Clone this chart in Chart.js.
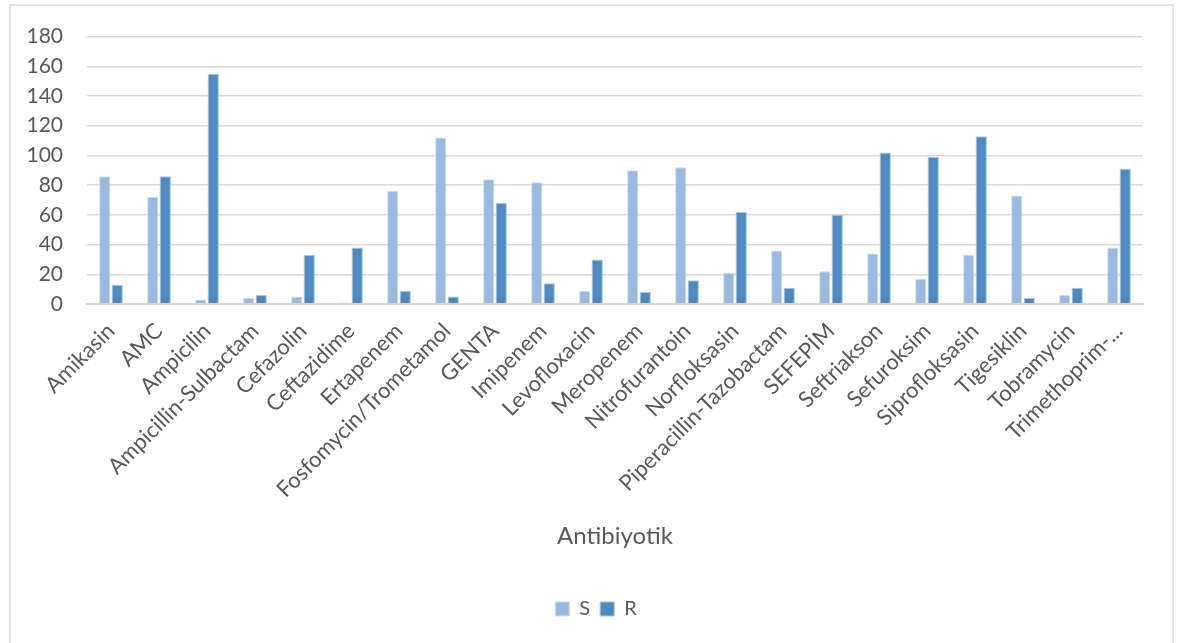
<!DOCTYPE html>
<html>
<head>
<meta charset="utf-8">
<script src="https://cdn.jsdelivr.net/npm/chart.js@4/dist/chart.umd.min.js"></script>
<style>
  html, body { margin: 0; padding: 0; background: #ffffff; }
  #wrap { position: relative; width: 1178px; height: 643px; }
</style>
</head>
<body>
<div id="wrap"><canvas id="c" width="1178" height="643"></canvas></div>
<script>
// Antibiotic susceptibility counts: S = susceptible, R = resistant
const categories = [
  'Amikasin', 'AMC', 'Ampicilin', 'Ampicillin-Sulbactam', 'Cefazolin',
  'Ceftazidime', 'Ertapenem', 'Fosfomycin/Trometamol', 'GENTA', 'Imipenem',
  'Levofloxacin', 'Meropenem', 'Nitrofurantoin', 'Norfloksasin',
  'Piperacillin-Tazobactam', 'SEFEPİM', 'Seftriakson', 'Sefuroksim',
  'Siprofloksasin', 'Tigesiklin', 'Tobramycin', 'Trimethoprim-...'
];
const sValues = [86, 72, 3, 4, 5, 1, 76, 112, 84, 82, 9, 90, 92, 21, 36, 22, 34, 17, 33, 73, 6, 38];
const rValues = [13, 86, 155, 6, 33, 38, 9, 5, 68, 14, 30, 8, 16, 62, 11, 60, 102, 99, 113, 4, 11, 91];
const yTicks = [0, 20, 40, 60, 80, 100, 120, 140, 160, 180];
const seriesNames = ['S', 'R'];
const xTitle = 'Antibiyotik';

const textColor = '#595959';
const fontFamily = 'Lato, "Open Sans", "Liberation Sans", sans-serif';

// light frame around the whole chart object
const framePlugin = {
  id: 'frame',
  beforeDraw(chart) {
    const ctx = chart.ctx;
    ctx.save();
    ctx.fillStyle = '#ffffff';
    ctx.fillRect(0, 0, chart.width, chart.height);
    ctx.strokeStyle = '#d9d9d9';
    ctx.lineWidth = 1.5;
    ctx.strokeRect(10, 5, 1163, 700);
    ctx.restore();
  }
};

new Chart(document.getElementById('c'), {
  type: 'bar',
  data: {
    labels: categories,
    datasets: [
      { label: seriesNames[0], data: sValues, backgroundColor: '#9ab9df', borderColor: '#c9dbf0', borderWidth: 1 },
      { label: seriesNames[1], data: rValues, backgroundColor: '#4f89bd', borderColor: '#a7c3df', borderWidth: 1 }
    ]
  },
  options: {
    responsive: false,
    animation: false,
    devicePixelRatio: 1,
    layout: { padding: { top: 23, left: 24, right: 10, bottom: 14 } },
    datasets: { bar: { categoryPercentage: 0.52, barPercentage: 0.9 } },
    plugins: {
      legend: {
        position: 'bottom',
        labels: {
          boxWidth: 14, boxHeight: 14, padding: 10,
          color: textColor,
          font: { family: fontFamily, size: 20 }
        }
      },
      tooltip: { enabled: false }
    },
    scales: {
      x: {
        grid: { display: false, drawTicks: false },
        border: { display: true, color: '#d9d9d9', width: 2 },
        ticks: {
          color: textColor,
          font: { family: fontFamily, size: 22 },
          minRotation: 45, maxRotation: 45,
          autoSkip: false,
          padding: 14
        },
        title: {
          display: true, text: xTitle, color: textColor,
          font: { family: fontFamily, size: 24 },
          padding: { top: 0, bottom: 38 }
        },
        afterFit(scale) { scale.height = 285; }
      },
      y: {
        min: 0, max: 180,
        afterBuildTicks(scale) { scale.ticks = yTicks.map(v => ({ value: v })); },
        grid: { color: '#d9d9d9', lineWidth: 1.5, drawTicks: false },
        border: { display: false },
        ticks: {
          color: textColor,
          font: { family: fontFamily, size: 21 },
          padding: 24
        },
        afterFit(scale) { scale.width = 63; }
      },
      // blank right-hand margin inside the chart frame
      yRight: {
        position: 'right',
        display: true,
        grid: { display: false, drawTicks: false },
        border: { display: false },
        ticks: { display: false },
        afterFit(scale) { scale.width = 25; }
      }
    }
  },
  plugins: [framePlugin]
});
</script>
</body>
</html>
